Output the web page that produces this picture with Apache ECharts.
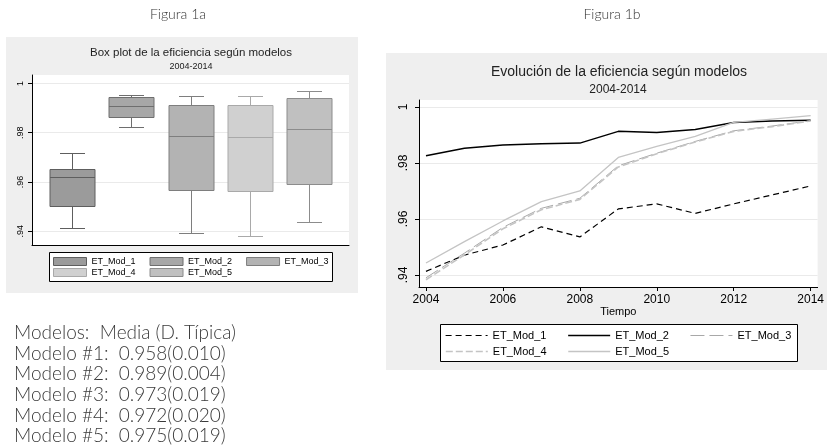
<!DOCTYPE html>
<html><head><meta charset="utf-8">
<script src="https://cdn.jsdelivr.net/npm/echarts@6/dist/echarts.min.js"></script>
<style>html,body{margin:0;padding:0;background:#fff}#c{width:827px;height:445px}</style>
</head><body><div id="c"></div>
<script>
// ---------- data ----------
const models = ['ET_Mod_1', 'ET_Mod_2', 'ET_Mod_3', 'ET_Mod_4', 'ET_Mod_5'];
const years = [2004, 2005, 2006, 2007, 2008, 2009, 2010, 2011, 2012, 2013, 2014];
const mod1 = [0.9413, 0.9471, 0.9507, 0.9572, 0.9536, 0.9636, 0.9654, 0.9620, 0.9654, 0.9686, 0.9718];
const mod2 = [0.9826, 0.9853, 0.9864, 0.9869, 0.9871, 0.9913, 0.9909, 0.9920, 0.9945, 0.9950, 0.9953];
const mod3 = [0.9390, 0.9478, 0.9570, 0.9638, 0.9674, 0.9790, 0.9835, 0.9877, 0.9915, 0.9932, 0.9951];
const mod4 = [0.9383, 0.9472, 0.9565, 0.9633, 0.9670, 0.9786, 0.9833, 0.9875, 0.9913, 0.9930, 0.9950];
const mod5 = [0.9443, 0.9519, 0.9593, 0.9662, 0.9700, 0.9820, 0.9859, 0.9895, 0.9945, 0.9957, 0.9969];
// box plot stats: [min, Q1, median, Q3, max]
const box1 = [0.9411, 0.9504, 0.9620, 0.9654, 0.9716];
const box2 = [0.9824, 0.9864, 0.9907, 0.9943, 0.9953];
const box3 = [0.9391, 0.9569, 0.9786, 0.9914, 0.9950];
const box4 = [0.9380, 0.9562, 0.9781, 0.9911, 0.9949];
const box5 = [0.9439, 0.9593, 0.9816, 0.9939, 0.9969];
const yTicks = [0.94, 0.96, 0.98, 1];
const yTickLabels = ['.94', '.96', '.98', '1'];
const xTicks = [2004, 2006, 2008, 2010, 2012, 2014];
const summaryLines = [
  'Modelos:  Media (D. Típica)',
  'Modelo #1:  0.958(0.010)',
  'Modelo #2:  0.989(0.004)',
  'Modelo #3:  0.973(0.019)',
  'Modelo #4:  0.972(0.020)',
  'Modelo #5:  0.975(0.019)'
];

// ---------- styles ----------
const FONT = 'Liberation Sans, Arial, sans-serif';
const TXTFONT = 'Lato, "Open Sans", sans-serif';
const boxFill = ['#9b9b9b', '#a7a7a7', '#b3b3b3', '#d0d0d0', '#c0c0c0'];
const boxStroke = ['#5e5e5e', '#6e6e6e', '#7e7e7e', '#a9a9a9', '#8c8c8c'];
const lineStyles = [
  { color: '#000000', width: 1.2, type: [6, 4] },
  { color: '#000000', width: 1.5, type: 'solid' },
  { color: '#a8a8a8', width: 1, type: [14, 5] },
  { color: '#c4c4c4', width: 1.6, type: [7, 3] },
  { color: '#c4c4c4', width: 1.3, type: 'solid' }
];
const boxes = [box1, box2, box3, box4, box5];
const lines = [mod1, mod2, mod3, mod4, mod5];
// line series get an internal key distinct from the box series (trailing space, trimmed in the legend)
const lineKey = m => m + ' ';

function yLabel(v) {
  const i = yTicks.findIndex(t => Math.abs(t - v) < 1e-9);
  return i >= 0 ? yTickLabels[i] : '';
}

function makeBoxRender(fill, stroke) {
  return function (params, api) {
    const x = api.value(0);
    const p = [1, 2, 3, 4, 5].map(d => api.coord([x, api.value(d)]));
    const cx = Math.round(p[0][0]) + 0.5;
    const bh = 22.5, ch = 12.5;
    const ls = { stroke: stroke, lineWidth: 1 };
    const yv = p.map(q => Math.round(q[1]) + 0.5);
    return {
      type: 'group',
      children: [
        { type: 'line', shape: { x1: cx, y1: yv[0], x2: cx, y2: yv[1] }, style: ls },
        { type: 'line', shape: { x1: cx, y1: yv[3], x2: cx, y2: yv[4] }, style: ls },
        { type: 'line', shape: { x1: cx - ch, y1: yv[0], x2: cx + ch, y2: yv[0] }, style: ls },
        { type: 'line', shape: { x1: cx - ch, y1: yv[4], x2: cx + ch, y2: yv[4] }, style: ls },
        { type: 'rect', shape: { x: cx - bh, y: yv[3], width: 2 * bh, height: yv[1] - yv[3] },
          style: { fill: fill, stroke: stroke, lineWidth: 1 } },
        { type: 'line', shape: { x1: cx - bh, y1: yv[2], x2: cx + bh, y2: yv[2] }, style: ls }
      ]
    };
  };
}

const series = [];
boxes.forEach((b, i) => {
  series.push({
    type: 'custom', name: models[i], xAxisIndex: 0, yAxisIndex: 0,
    itemStyle: { color: boxFill[i], borderColor: boxStroke[i] },
    renderItem: makeBoxRender(boxFill[i], boxStroke[i]),
    encode: { x: 0, y: [1, 2, 3, 4, 5] },
    data: [[i + 1].concat(b)]
  });
});
lines.forEach((l, i) => {
  series.push({
    type: 'line', name: lineKey(models[i]), xAxisIndex: 1, yAxisIndex: 1,
    symbol: 'none', silent: true,
    lineStyle: lineStyles[i], itemStyle: { color: lineStyles[i].color },
    data: years.map((y, k) => [y, l[k]])
  });
});

const axisBlack = { show: true, lineStyle: { color: '#000', width: 1 } };

const graphics = [
  { type: 'rect', z: -100, shape: { x: 6, y: 37, width: 352, height: 256 }, style: { fill: '#efefef' } },
  { type: 'rect', z: -100, shape: { x: 386, y: 53, width: 441, height: 317 }, style: { fill: '#efefef' } },
  { type: 'rect', z: 1, shape: { x: 49.5, y: 252.5, width: 283, height: 29 }, style: { fill: '#fff', stroke: '#000', lineWidth: 1 } },
  { type: 'rect', z: 1, shape: { x: 440.5, y: 324.5, width: 357, height: 37 }, style: { fill: '#fff', stroke: '#000', lineWidth: 1 } },
  { type: 'text', style: { x: 178, y: 14, text: 'Figura 1a', textAlign: 'center', textVerticalAlign: 'middle', font: '300 14px ' + TXTFONT, fill: '#333' } },
  { type: 'text', style: { x: 612, y: 14, text: 'Figura 1b', textAlign: 'center', textVerticalAlign: 'middle', font: '300 14px ' + TXTFONT, fill: '#333' } },
  { type: 'text', style: { x: 191, y: 53, text: 'Box plot de la eficiencia según modelos', textAlign: 'center', textVerticalAlign: 'middle', font: '11.5px ' + FONT, fill: '#222' } },
  { type: 'text', style: { x: 191, y: 67, text: '2004-2014', textAlign: 'center', textVerticalAlign: 'middle', font: '9px ' + FONT, fill: '#222' } },
  { type: 'text', style: { x: 619, y: 72, text: 'Evolución de la eficiencia según modelos', textAlign: 'center', textVerticalAlign: 'middle', font: '14px ' + FONT, fill: '#222' } },
  { type: 'text', style: { x: 618, y: 90, text: '2004-2014', textAlign: 'center', textVerticalAlign: 'middle', font: '12px ' + FONT, fill: '#222' } }
];
const lineY = [333, 354, 374, 395, 416, 436];
summaryLines.forEach((t, i) => {
  graphics.push({ type: 'text', style: { x: 14, y: lineY[i], text: t, textAlign: 'left', textVerticalAlign: 'middle', font: '300 19px ' + TXTFONT, fill: '#3a3a3a' } });
});

function boxLegendData(idx) {
  return idx.map(i => ({ name: models[i], itemStyle: { color: boxFill[i], borderColor: boxStroke[i], borderWidth: 1 } }));
}
function lineLegendData(idx) {
  return idx.map(i => ({ name: lineKey(models[i]),
    itemStyle: { opacity: 0, color: 'rgba(0,0,0,0)', borderWidth: 0 },
    lineStyle: { color: lineStyles[i].color, width: lineStyles[i].width, type: lineStyles[i].type, opacity: 1 } }));
}

const option = {
  animation: false,
  textStyle: { fontFamily: FONT },
  graphic: { elements: graphics },
  grid: [
    { left: 32, top: 75, width: 317, height: 170, show: true, backgroundColor: '#fff', borderWidth: 0 },
    { left: 419, top: 100, width: 400, height: 187, show: true, backgroundColor: '#fff', borderWidth: 0 }
  ],
  xAxis: [
    { type: 'value', gridIndex: 0, min: 0.3136, max: 5.6864, axisLine: axisBlack,
      axisTick: { show: false }, axisLabel: { show: false }, splitLine: { show: false } },
    { type: 'value', gridIndex: 1, min: 2003.819, max: 2014.181, axisLine: axisBlack,
      axisTick: { show: true, length: 4, customValues: xTicks, lineStyle: { color: '#000' } },
      axisLabel: { customValues: xTicks, fontSize: 12, color: '#000', margin: 7, formatter: v => String(v) },
      splitLine: { show: false },
      name: 'Tiempo', nameLocation: 'middle', nameGap: 19, nameTextStyle: { fontSize: 11, color: '#000' } }
  ],
  yAxis: [
    { type: 'value', gridIndex: 0, min: 0.9344, max: 1.0034, axisLine: axisBlack,
      axisTick: { show: true, length: 4, customValues: yTicks, lineStyle: { color: '#000' } },
      axisLabel: { customValues: yTicks, rotate: 90, fontSize: 9, color: '#000', margin: 7, formatter: yLabel },
      splitLine: { show: true, lineStyle: { color: '#eaeaea', width: 1 } } },
    { type: 'value', gridIndex: 1, min: 0.93571, max: 1.0025, axisLine: axisBlack,
      axisTick: { show: true, length: 4, customValues: yTicks, lineStyle: { color: '#000' } },
      axisLabel: { customValues: yTicks, rotate: 90, fontSize: 12, color: '#000', margin: 9, formatter: yLabel },
      splitLine: { show: true, lineStyle: { color: '#eaeaea', width: 1 } } }
  ],
  legend: [
    { data: boxLegendData([0, 1, 2]), left: 53, top: 257, padding: 0, icon: 'rect', itemWidth: 33, itemHeight: 8, itemGap: 14,
      selectedMode: false, textStyle: { fontSize: 9, color: '#000' } },
    { data: boxLegendData([3, 4]), left: 53, top: 268, padding: 0, icon: 'rect', itemWidth: 33, itemHeight: 8, itemGap: 14,
      selectedMode: false, textStyle: { fontSize: 9, color: '#000' } },
    { data: lineLegendData([0, 1, 2]), left: 445, top: 330, padding: 0, itemWidth: 42, itemHeight: 10, itemGap: 21,
      selectedMode: false, formatter: n => n.trim(), textStyle: { fontSize: 11, color: '#000' } },
    { data: lineLegendData([3, 4]), left: 445, top: 346, padding: 0, itemWidth: 42, itemHeight: 10, itemGap: 21,
      selectedMode: false, formatter: n => n.trim(), textStyle: { fontSize: 11, color: '#000' } }
  ],
  series: series
};

const chart = echarts.init(document.getElementById('c'), null, { renderer: 'canvas' });
chart.setOption(option);
</script>
</body></html>
